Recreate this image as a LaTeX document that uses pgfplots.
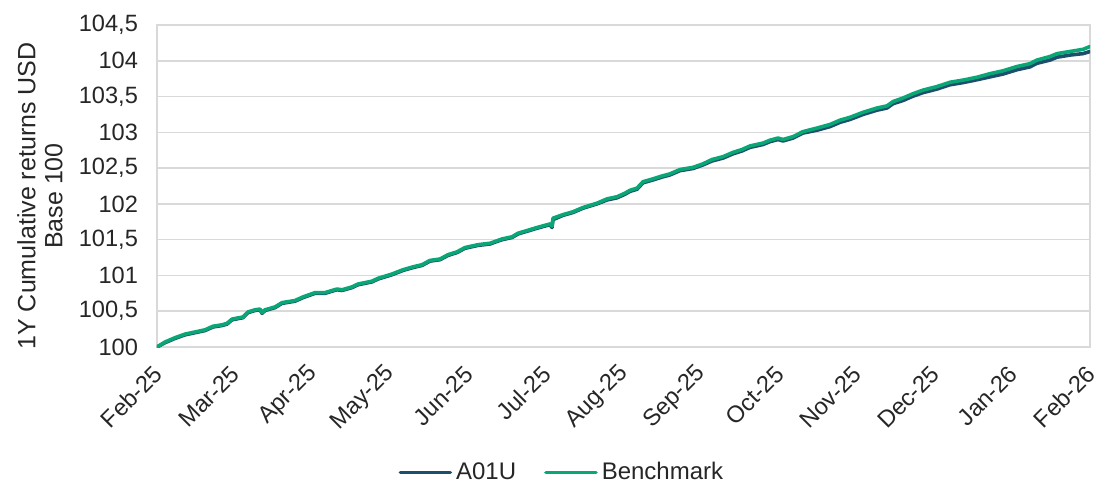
\documentclass[border=0pt]{standalone}
\usepackage{pgfplots}
\pgfplotsset{compat=1.18}
\usepackage{fontspec}
\setmainfont{Liberation Sans}
\definecolor{cA}{HTML}{1D4F6D}
\definecolor{cB}{HTML}{0AA676}
\definecolor{gridc}{HTML}{D9D9D9}
\definecolor{txt}{HTML}{262626}
\begin{document}
\begin{tikzpicture}
\useasboundingbox (-78.5pt,-68.5pt) rectangle (469.5pt,173.5pt);
\begin{axis}[
  at={(0,0)}, anchor=south west,
  scale only axis, width=466.5pt, height=161pt,
  xmin=0, xmax=933, ymin=100, ymax=104.5,
  xtick={0,77.75,155.5,233.25,311,388.75,466.5,544.25,622,699.75,777.5,855.25,933},
  xticklabels={Feb-25,Mar-25,Apr-25,May-25,Jun-25,Jul-25,Aug-25,Sep-25,Oct-25,Nov-25,Dec-25,Jan-26,Feb-26},
  ytick={100,100.5,...,104.5},
  ymajorgrids, grid style={gridc, line width=0.8pt},
  axis line style={gridc, line width=0.8pt},
  major tick length=0pt,
  tick label style={font=\fontsize{11.8}{13}\selectfont, text=txt},
  /pgf/number format/assume math mode=true,
  /pgf/number format/use comma,
  /pgf/number format/1000 sep={},
  xticklabel style={xshift=0.5pt, yshift=-11.5pt, rotate=45, anchor=east, inner sep=0pt},
  yticklabel style={xshift=-6pt},
  ylabel={1Y Cumulative returns USD\\Base 100},
  ylabel style={align=center, font=\fontsize{12.5}{13.5}\selectfont, text=txt, at={(rel axis cs:0,0.5)}, anchor=center, yshift=58.5pt, xshift=-5pt},
  legend columns=2,
  legend style={draw=none, fill=none, at={(0.435,-0.39)}, anchor=center, font=\fontsize{12}{14}\selectfont, text=txt, /tikz/every even column/.append style={column sep=12pt}},
  legend image code/.code={\draw[#1, line width=1.8pt] (0pt,0pt) -- (25pt,0pt);},
  every axis plot/.append style={line width=1.8pt, line join=round, line cap=round},
]
\addplot[cA, mark=none] table {
x y
0 100.00
8 100.06
18 100.12
28 100.17
38 100.20
48 100.23
56 100.28
65 100.30
70 100.32
75 100.38
86 100.41
91 100.48
98 100.51
103 100.52
105 100.47
108 100.51
118 100.55
125 100.61
138 100.64
146 100.69
158 100.75
168 100.75
175 100.78
180 100.80
185 100.79
195 100.83
201 100.87
215 100.91
221 100.95
235 101.01
246 101.07
256 101.11
265 101.14
273 101.20
283 101.22
291 101.28
300 101.32
308 101.38
321 101.42
333 101.44
345 101.50
355 101.53
361 101.58
373 101.63
380 101.66
393 101.71
395 101.67
396 101.78
406 101.84
416 101.88
426 101.94
440 102.00
450 102.055
460 102.085
468 102.135
473 102.175
480 102.205
486 102.295
496 102.335
505 102.375
513 102.405
523 102.465
536 102.495
546 102.545
555 102.60
566 102.64
576 102.70
585 102.74
593 102.79
606 102.83
613 102.87
621 102.90
626 102.88
636 102.92
646 102.99
660 103.03
673 103.08
683 103.14
693 103.18
706 103.25
720 103.31
730 103.34
736 103.40
746 103.445
756 103.505
766 103.555
780 103.605
793 103.665
806 103.695
820 103.735
833 103.775
846 103.815
860 103.875
873 103.915
880 103.965
893 104.01
900 104.05
913 104.08
926 104.10
933 104.13
};
\addlegendentry{A01U}
\addplot[cB, mark=none] table {
x y
0 100.00
8 100.07
18 100.13
28 100.18
38 100.21
48 100.24
56 100.29
65 100.31
70 100.33
75 100.39
86 100.42
91 100.49
98 100.52
103 100.53
105 100.48
108 100.52
118 100.56
125 100.62
138 100.65
146 100.70
158 100.76
168 100.76
175 100.79
180 100.81
185 100.80
195 100.84
201 100.88
215 100.92
221 100.96
235 101.02
246 101.08
256 101.12
265 101.15
273 101.21
283 101.23
291 101.29
300 101.33
308 101.39
321 101.43
333 101.45
345 101.51
355 101.54
361 101.59
373 101.64
380 101.67
393 101.72
395 101.69
396 101.80
406 101.85
416 101.89
426 101.95
440 102.01
450 102.07
460 102.10
468 102.15
473 102.19
480 102.22
486 102.31
496 102.35
505 102.39
513 102.42
523 102.48
536 102.51
546 102.56
555 102.62
566 102.66
576 102.72
585 102.76
593 102.81
606 102.85
613 102.89
621 102.92
626 102.90
636 102.94
646 103.01
660 103.06
673 103.11
683 103.17
693 103.21
706 103.28
720 103.34
730 103.37
736 103.43
746 103.48
756 103.54
766 103.59
780 103.64
793 103.70
806 103.73
820 103.77
833 103.82
846 103.86
860 103.92
873 103.96
880 104.01
893 104.06
900 104.10
913 104.13
926 104.16
933 104.20
};
\addlegendentry{Benchmark}
\end{axis}
\end{tikzpicture}
\end{document}
